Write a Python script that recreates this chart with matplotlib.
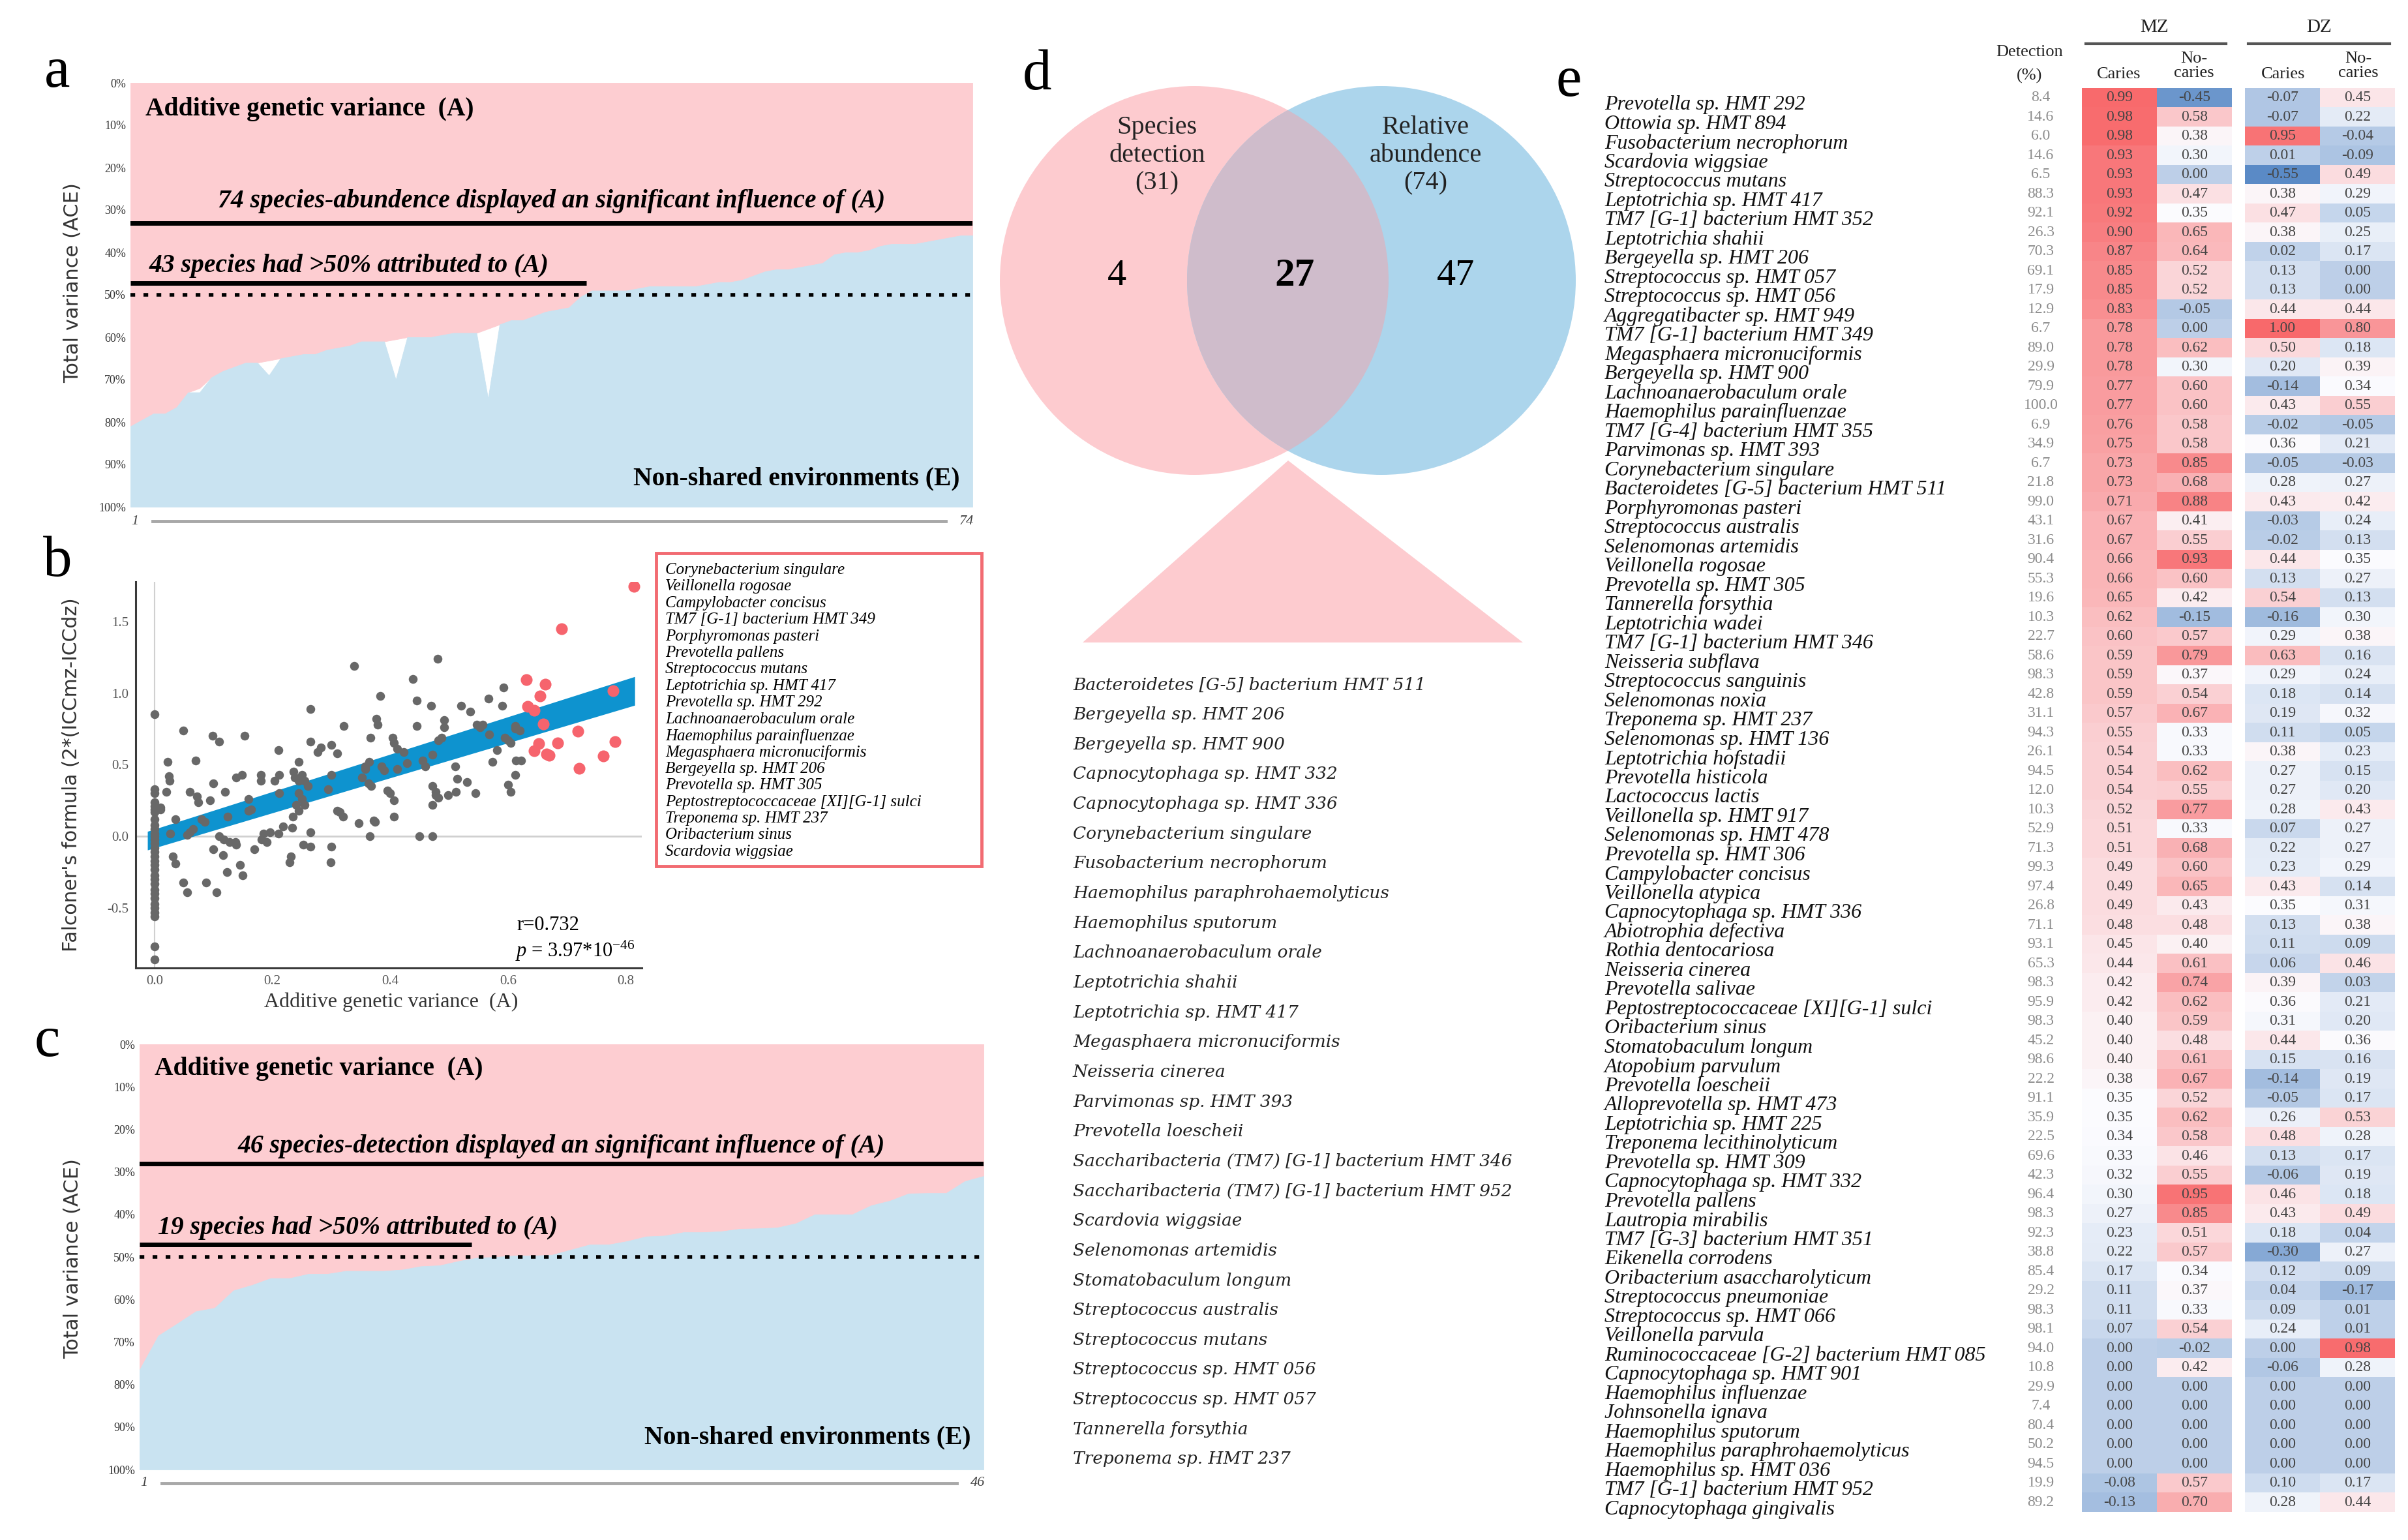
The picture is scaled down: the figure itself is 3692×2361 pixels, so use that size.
import numpy as np
import matplotlib
matplotlib.use("Agg")
import matplotlib.pyplot as plt
from matplotlib.patches import Circle, Polygon, Rectangle
from matplotlib.colors import LinearSegmentedColormap, TwoSlopeNorm

plt.rcParams['font.family'] = ['Liberation Serif', 'DejaVu Serif']
plt.rcParams['mathtext.fontset'] = 'custom'
plt.rcParams['mathtext.rm'] = 'Liberation Serif'
plt.rcParams['mathtext.it'] = 'Liberation Serif:italic'

# ------------------------------------------------------------------ data
# panel a : additive genetic variance (A, %) for 74 species (abundance), shared env. (C, %)
a_A = [81, 79.5, 78, 78, 76.5, 73, 72, 69.5, 68, 67, 66, 66, 65.5, 65, 64.5, 64, 64, 63,
       62.5, 62, 61, 61, 61, 60.5, 60, 60, 60, 59.5, 59, 59, 59, 58, 57, 56, 56, 55, 54,
       53.5, 53, 50.5, 49, 49, 49, 49, 48.5, 48, 48, 48, 48, 48, 47.5, 47, 47, 46.5, 45.5,
       44.5, 44, 44, 43.5, 43, 42.5, 40.5, 40, 40, 39.5, 38.5, 38, 38, 38, 37.5, 37, 36.5,
       36, 36]
a_C = [0, 0, 0, 0, 0, 0, 1, 0, 0, 0, 0, 0, 3.5, 0, 0, 0, 0, 0, 0, 0, 0, 0, 0, 9.5, 0, 0,
       0, 0, 0, 0, 0, 16.5, 0, 0, 0, 0, 0, 0, 0, 0, 0, 0, 0, 0, 0, 0, 0, 0, 0, 0, 0, 0, 0,
       0, 0, 0, 0, 0, 0, 0, 0, 0, 0, 0, 0, 0, 0, 0, 0, 0, 0, 0, 0, 0]
a_sig_text = "74 species-abundence displayed an significant influence of (A)"
a_half_text = "43 species had >50% attributed to (A)"

# panel c : additive genetic variance (A, %) for 46 species (detection)
c_A = [76.5, 68.5, 65.7, 62.8, 62, 57.9, 56.6, 55, 55, 54, 54, 53.3, 53.3, 53.3, 53, 52.2,
       52, 51, 50.2, 50, 49.7, 49.7, 49.5, 48.3, 47.1, 47.1, 46.3, 45.2, 45, 44.2, 44.2, 44,
       43.4, 43.3, 43.1, 42.1, 40, 40, 40, 37.9, 36.8, 35.1, 35, 35, 32.2, 31]
c_C = [0] * 46
c_sig_text = "46 species-detection displayed an significant influence of (A)"
c_half_text = "19 species had >50% attributed to (A)"

# panel b : A (x) vs Falconer's estimate (y)
b_other_species = [
    (0.0, 0.85), (0.0, 0.33), (0.0, 0.30), (0.0, 0.24), (0.0, 0.21), (0.0, 0.19), (0.0, 0.17),
    (0.0, 0.12), (0.0, 0.08), (0.0, 0.05), (0.0, 0.02), (0.0, 0.0), (0.0, -0.02), (0.0, -0.05),
    (0.0, -0.08), (0.0, -0.11), (0.0, -0.14), (0.0, -0.17), (0.0, -0.2), (0.0, -0.23),
    (0.0, -0.27), (0.0, -0.3), (0.0, -0.33), (0.0, -0.37), (0.0, -0.4), (0.0, -0.43),
    (0.0, -0.47), (0.0, -0.5), (0.0, -0.53), (0.0, -0.56), (0.0, -0.77), (0.0, -0.86),
    (0.01, 0.2), (0.01, 0.19),
    (0.022, 0.52), (0.024, 0.42), (0.026, 0.39), (0.02, 0.31), (0.035, 0.12), (0.027, 0.02),
    (0.031, -0.14), (0.035, -0.19), (0.049, -0.32), (0.056, -0.39), (0.049, 0.74), (0.06, 0.31),
    (0.07, 0.53), (0.072, 0.28), (0.074, 0.24), (0.06, 0.03), (0.056, 0.01), (0.065, 0.05),
    (0.08, 0.12), (0.085, 0.10), (0.094, 0.25), (0.099, 0.70), (0.11, 0.66), (0.1, -0.09),
    (0.105, -0.39), (0.088, -0.32), (0.116, -0.13), (0.117, -0.02), (0.11, 0.0), (0.127, -0.04),
    (0.1, 0.37), (0.12, 0.31), (0.124, 0.14), (0.139, 0.41), (0.148, 0.43), (0.153, 0.70),
    (0.145, -0.2), (0.15, -0.27), (0.123, -0.25), (0.137, -0.04), (0.139, -0.06), (0.159, 0.18),
    (0.16, 0.26), (0.164, 0.19), (0.17, -0.09), (0.18, 0.43), (0.18, 0.39), (0.185, 0.02),
    (0.182, -0.02), (0.19, -0.04), (0.196, 0.03), (0.204, 0.39), (0.21, 0.60), (0.212, 0.43),
    (0.212, 0.30), (0.21, 0.02), (0.218, 0.07), (0.229, -0.18), (0.232, -0.14), (0.234, 0.06),
    (0.236, 0.45), (0.238, 0.41), (0.245, 0.52), (0.245, 0.39), (0.25, 0.43), (0.255, 0.39),
    (0.26, 0.35), (0.245, 0.30), (0.25, 0.26), (0.255, 0.22), (0.24, 0.22), (0.245, 0.18),
    (0.235, 0.14), (0.253, -0.06), (0.265, -0.07), (0.265, 0.03), (0.265, 0.89), (0.265, 0.66),
    (0.277, 0.59), (0.282, 0.62), (0.3, 0.64), (0.3, 0.43), (0.295, 0.33), (0.3, -0.07),
    (0.299, -0.18), (0.31, 0.18), (0.315, 0.17), (0.32, 0.14), (0.31, 0.58), (0.321, 0.77),
    (0.339, 1.19), (0.347, 0.09), (0.352, 0.41), (0.358, 0.49), (0.364, 0.52), (0.358, 0.47),
    (0.368, 0.35), (0.363, 0.37), (0.365, 0.0), (0.372, 0.11), (0.374, 0.10), (0.367, 0.69),
    (0.376, 0.82), (0.379, 0.78), (0.383, 0.98), (0.385, 0.49), (0.39, 0.46), (0.395, 0.32),
    (0.4, 0.30), (0.406, 0.25), (0.406, 0.14), (0.404, 0.69), (0.406, 0.65), (0.412, 0.61),
    (0.412, 0.47), (0.423, 0.59), (0.428, 0.51), (0.439, 1.10), (0.445, 0.95), (0.445, 0.77),
    (0.45, 0.0), (0.472, 0.0), (0.455, 0.53), (0.46, 0.49), (0.472, 0.57), (0.469, 0.91),
    (0.48, 1.24), (0.482, 0.67), (0.487, 0.69), (0.492, 0.81), (0.492, 0.76), (0.472, 0.35),
    (0.477, 0.31), (0.482, 0.27), (0.472, 0.22), (0.477, 0.29), (0.498, 0.29), (0.51, 0.49),
    (0.514, 0.40), (0.512, 0.31), (0.52, 0.91), (0.53, 0.38), (0.536, 0.87), (0.545, 0.30),
    (0.547, 0.78), (0.552, 0.76), (0.557, 0.78), (0.567, 0.96), (0.568, 0.71), (0.574, 0.52),
    (0.581, 0.60), (0.59, 0.91), (0.592, 1.04), (0.595, 0.69), (0.6, 0.67), (0.605, 0.65),
    (0.612, 0.75), (0.612, 0.77), (0.6, 0.36), (0.605, 0.31), (0.612, 0.43), (0.613, 0.53),
    (0.622, 0.53), (0.62, 0.74)]
b_hl_x = [0.814, 0.691, 0.631, 0.663, 0.654, 0.633, 0.644, 0.66, 0.778, 0.719, 0.684,
          0.652, 0.782, 0.644, 0.665, 0.67, 0.762, 0.721]
b_hl_y = [1.745, 1.449, 1.092, 1.061, 0.98, 0.908, 0.88, 0.786, 1.016, 0.735, 0.653,
          0.649, 0.663, 0.596, 0.576, 0.567, 0.561, 0.476]
b_hl_names = ["Corynebacterium singulare", "Veillonella rogosae", "Campylobacter concisus",
              "TM7 [G-1] bacterium HMT 349", "Porphyromonas pasteri", "Prevotella pallens",
              "Streptococcus mutans", "Leptotrichia sp. HMT 417", "Prevotella sp. HMT 292",
              "Lachnoanaerobaculum orale", "Haemophilus parainfluenzae",
              "Megasphaera micronuciformis", "Bergeyella sp. HMT 206", "Prevotella sp. HMT 305",
              "Peptostreptococcaceae [XI][G-1] sulci", "Treponema sp. HMT 237",
              "Oribacterium sinus", "Scardovia wiggsiae"]
b_fit_x = [-0.012, 0.815]
b_fit_center = [-0.03, 1.015]
b_fit_half = [0.065, 0.10]
b_r = 0.732
b_p_mant, b_p_exp = 3.97, -46

# panel d : Venn
d_sets = ["Species\ndetection", "Relative\nabundence"]
d_totals = [31, 74]
d_regions = [4, 27, 47]
d_shared = ["Bacteroidetes [G-5] bacterium HMT 511", "Bergeyella sp. HMT 206",
            "Bergeyella sp. HMT 900", "Capnocytophaga sp. HMT 332", "Capnocytophaga sp. HMT 336",
            "Corynebacterium singulare", "Fusobacterium necrophorum",
            "Haemophilus paraphrohaemolyticus", "Haemophilus sputorum",
            "Lachnoanaerobaculum orale", "Leptotrichia shahii", "Leptotrichia sp. HMT 417",
            "Megasphaera micronuciformis", "Neisseria cinerea", "Parvimonas sp. HMT 393",
            "Prevotella loescheii", "Saccharibacteria (TM7) [G-1] bacterium HMT 346",
            "Saccharibacteria (TM7) [G-1] bacterium HMT 952", "Scardovia wiggsiae",
            "Selenomonas artemidis", "Stomatobaculum longum", "Streptococcus australis",
            "Streptococcus mutans", "Streptococcus sp. HMT 056", "Streptococcus sp. HMT 057",
            "Tannerella forsythia", "Treponema sp. HMT 237"]

# panel e : heatmap
e_species = ["Prevotella sp. HMT 292", "Ottowia sp. HMT 894", "Fusobacterium necrophorum",
             "Scardovia wiggsiae", "Streptococcus mutans", "Leptotrichia sp. HMT 417",
             "TM7 [G-1] bacterium HMT 352", "Leptotrichia shahii", "Bergeyella sp. HMT 206",
             "Streptococcus sp. HMT 057", "Streptococcus sp. HMT 056",
             "Aggregatibacter sp. HMT 949", "TM7 [G-1] bacterium HMT 349",
             "Megasphaera micronuciformis", "Bergeyella sp. HMT 900", "Lachnoanaerobaculum orale",
             "Haemophilus parainfluenzae", "TM7 [G-4] bacterium HMT 355", "Parvimonas sp. HMT 393",
             "Corynebacterium singulare", "Bacteroidetes [G-5] bacterium HMT 511",
             "Porphyromonas pasteri", "Streptococcus australis", "Selenomonas artemidis",
             "Veillonella rogosae", "Prevotella sp. HMT 305", "Tannerella forsythia",
             "Leptotrichia wadei", "TM7 [G-1] bacterium HMT 346", "Neisseria subflava",
             "Streptococcus sanguinis", "Selenomonas noxia", "Treponema sp. HMT 237",
             "Selenomonas sp. HMT 136", "Leptotrichia hofstadii", "Prevotella histicola",
             "Lactococcus lactis", "Veillonella sp. HMT 917", "Selenomonas sp. HMT 478",
             "Prevotella sp. HMT 306", "Campylobacter concisus", "Veillonella atypica",
             "Capnocytophaga sp. HMT 336", "Abiotrophia defectiva", "Rothia dentocariosa",
             "Neisseria cinerea", "Prevotella salivae", "Peptostreptococcaceae [XI][G-1] sulci",
             "Oribacterium sinus", "Stomatobaculum longum", "Atopobium parvulum",
             "Prevotella loescheii", "Alloprevotella sp. HMT 473", "Leptotrichia sp. HMT 225",
             "Treponema lecithinolyticum", "Prevotella sp. HMT 309", "Capnocytophaga sp. HMT 332",
             "Prevotella pallens", "Lautropia mirabilis", "TM7 [G-3] bacterium HMT 351",
             "Eikenella corrodens", "Oribacterium asaccharolyticum", "Streptococcus pneumoniae",
             "Streptococcus sp. HMT 066", "Veillonella parvula",
             "Ruminococcaceae [G-2] bacterium HMT 085", "Capnocytophaga sp. HMT 901",
             "Haemophilus influenzae", "Johnsonella ignava", "Haemophilus sputorum",
             "Haemophilus paraphrohaemolyticus", "Haemophilus sp. HMT 036",
             "TM7 [G-1] bacterium HMT 952", "Capnocytophaga gingivalis"]
e_detection = [8.4, 14.6, 6.0, 14.6, 6.5, 88.3, 92.1, 26.3, 70.3, 69.1,
               17.9, 12.9, 6.7, 89.0, 29.9, 79.9, 100.0, 6.9, 34.9, 6.7,
               21.8, 99.0, 43.1, 31.6, 90.4, 55.3, 19.6, 10.3, 22.7, 58.6,
               98.3, 42.8, 31.1, 94.3, 26.1, 94.5, 12.0, 10.3, 52.9, 71.3,
               99.3, 97.4, 26.8, 71.1, 93.1, 65.3, 98.3, 95.9, 98.3, 45.2,
               98.6, 22.2, 91.1, 35.9, 22.5, 69.6, 42.3, 96.4, 98.3, 92.3,
               38.8, 85.4, 29.2, 98.3, 98.1, 94.0, 10.8, 29.9, 7.4, 80.4,
               50.2, 94.5, 19.9, 89.2]
e_mz_caries = [0.99, 0.98, 0.98, 0.93, 0.93, 0.93, 0.92, 0.90, 0.87, 0.85,
               0.85, 0.83, 0.78, 0.78, 0.78, 0.77, 0.77, 0.76, 0.75, 0.73,
               0.73, 0.71, 0.67, 0.67, 0.66, 0.66, 0.65, 0.62, 0.60, 0.59,
               0.59, 0.59, 0.57, 0.55, 0.54, 0.54, 0.54, 0.52, 0.51, 0.51,
               0.49, 0.49, 0.49, 0.48, 0.45, 0.44, 0.42, 0.42, 0.40, 0.40,
               0.40, 0.38, 0.35, 0.35, 0.34, 0.33, 0.32, 0.30, 0.27, 0.23,
               0.22, 0.17, 0.11, 0.11, 0.07, 0.00, 0.00, 0.00, 0.00, 0.00,
               0.00, 0.00, -0.08, -0.13]
e_mz_nocaries = [-0.45, 0.58, 0.38, 0.30, 0.00, 0.47, 0.35, 0.65, 0.64, 0.52,
                 0.52, -0.05, 0.00, 0.62, 0.30, 0.60, 0.60, 0.58, 0.58, 0.85,
                 0.68, 0.88, 0.41, 0.55, 0.93, 0.60, 0.42, -0.15, 0.57, 0.79,
                 0.37, 0.54, 0.67, 0.33, 0.33, 0.62, 0.55, 0.77, 0.33, 0.68,
                 0.60, 0.65, 0.43, 0.48, 0.40, 0.61, 0.74, 0.62, 0.59, 0.48,
                 0.61, 0.67, 0.52, 0.62, 0.58, 0.46, 0.55, 0.95, 0.85, 0.51,
                 0.57, 0.34, 0.37, 0.33, 0.54, -0.02, 0.42, 0.00, 0.00, 0.00,
                 0.00, 0.00, 0.57, 0.70]
e_dz_caries = [-0.07, -0.07, 0.95, 0.01, -0.55, 0.38, 0.47, 0.38, 0.02, 0.13,
               0.13, 0.44, 1.00, 0.50, 0.20, -0.14, 0.43, -0.02, 0.36, -0.05,
               0.28, 0.43, -0.03, -0.02, 0.44, 0.13, 0.54, -0.16, 0.29, 0.63,
               0.29, 0.18, 0.19, 0.11, 0.38, 0.27, 0.27, 0.28, 0.07, 0.22,
               0.23, 0.43, 0.35, 0.13, 0.11, 0.06, 0.39, 0.36, 0.31, 0.44,
               0.15, -0.14, -0.05, 0.26, 0.48, 0.13, -0.06, 0.46, 0.43, 0.18,
               -0.30, 0.12, 0.04, 0.09, 0.24, 0.00, -0.06, 0.00, 0.00, 0.00,
               0.00, 0.00, 0.10, 0.28]
e_dz_nocaries = [0.45, 0.22, -0.04, -0.09, 0.49, 0.29, 0.05, 0.25, 0.17, 0.00,
                 0.00, 0.44, 0.80, 0.18, 0.39, 0.34, 0.55, -0.05, 0.21, -0.03,
                 0.27, 0.42, 0.24, 0.13, 0.35, 0.27, 0.13, 0.30, 0.38, 0.16,
                 0.24, 0.14, 0.32, 0.05, 0.23, 0.15, 0.20, 0.43, 0.27, 0.27,
                 0.29, 0.14, 0.31, 0.38, 0.09, 0.46, 0.03, 0.21, 0.20, 0.36,
                 0.16, 0.19, 0.17, 0.53, 0.28, 0.17, 0.19, 0.18, 0.49, 0.04,
                 0.27, 0.09, -0.17, 0.01, 0.01, 0.98, 0.28, 0.00, 0.00, 0.00,
                 0.00, 0.00, 0.17, 0.44]

# ------------------------------------------------------------------ figure
W, H = 3692, 2361
fig = plt.figure(figsize=(W / 100, H / 100), dpi=100)
fig.patch.set_facecolor('white')


def px_axes(x0, y0, x1, y1):
    return fig.add_axes([x0 / W, 1 - y1 / H, (x1 - x0) / W, (y1 - y0) / H])


PINK = '#fdcdd1'
LBLUE = '#c9e3f1'
BIG = 28.5


def ace_panel(box, A, C, sig_text, half_text, sig_y, half_y, half_end, txt_y, bar_y, last_lbl):
    ax = px_axes(*box)
    n = len(A)
    x = np.arange(1, n + 1)
    a = np.asarray(A, float) / 100
    c = np.asarray(C, float) / 100
    ax.fill_between(x, 0, a, facecolor=PINK, edgecolor=PINK, lw=0.6)
    ax.fill_between(x, a + c, 1, facecolor=LBLUE, edgecolor=LBLUE, lw=0.6)
    ax.set_xlim(1, n)
    ax.set_ylim(1, 0)
    for s in ax.spines.values():
        s.set_visible(False)
    ax.set_xticks([])
    ticks = np.round(np.arange(0, 1.001, 0.1), 2)
    ax.set_yticks(ticks)
    ax.set_yticklabels([f"{int(round(t * 100))}%" for t in ticks])
    ax.tick_params(axis='y', length=0, labelsize=13, labelcolor='#333333', pad=5)
    tr = ax.get_yaxis_transform()
    ax.text(0.018, txt_y[0], "Additive genetic variance  (A)", transform=tr, fontsize=BIG,
            fontweight='bold', ha='left', va='center')
    ax.text(0.5, txt_y[1], sig_text, transform=tr, fontsize=BIG, fontweight='bold',
            style='italic', ha='center', va='center')
    ax.axhline(sig_y, color='black', lw=5)
    ax.text(0.022, txt_y[2], half_text, transform=tr, fontsize=BIG, fontweight='bold',
            style='italic', ha='left', va='center')
    ax.plot([1, half_end], [half_y, half_y], color='black', lw=5, solid_capstyle='butt')
    ax.axhline(0.5, color='black', lw=4, ls=(0, (1.3, 2.3)))
    ax.text(0.985, txt_y[3], "Non-shared environments (E)", transform=tr, fontsize=BIG,
            fontweight='bold', ha='right', va='center')
    ax.plot([0.026, 0.968], [bar_y, bar_y], transform=ax.transAxes, clip_on=False,
            color='#a8a8a8', lw=3.5)
    ax.text(0.005, bar_y, "1", transform=ax.transAxes, style='italic', fontsize=16,
            color='#444444', ha='center', va='center')
    ax.text(0.993, bar_y, last_lbl, transform=ax.transAxes, style='italic', fontsize=16,
            color='#444444', ha='center', va='center')
    return ax


ace_panel((200, 127, 1491, 777), a_A, a_C, a_sig_text, a_half_text, 0.33, 0.472, 40.5,
          (0.062, 0.279, 0.432, 0.934), -0.034, str(len(a_A)))
ace_panel((214, 1601, 1508, 2253), c_A, c_C, c_sig_text, c_half_text, 0.281, 0.471, 18.7,
          (0.058, 0.24, 0.431, 0.924), -0.032, str(len(c_A)))

# ---- panel b
axb = px_axes(208, 892, 984, 1484)
axb.set_xlim(-0.032, 0.827)
axb.set_ylim(-0.918, 1.776)
axb.axhline(0, color='#d0d0d0', lw=2, zorder=0)
axb.axvline(0, color='#d0d0d0', lw=1.5, zorder=0)
fx = np.linspace(b_fit_x[0], b_fit_x[1], 50)
fc = np.interp(fx, b_fit_x, b_fit_center)
fh = np.interp(fx, b_fit_x, b_fit_half)
axb.fill_between(fx, fc - fh, fc + fh, color='#0e93cf', lw=0, zorder=1)
gx, gy = zip(*b_other_species)
axb.scatter(gx, gy, s=95, color='#686868', lw=0, zorder=2)
axb.scatter(b_hl_x, b_hl_y, s=170, color='#f6646d', lw=0, zorder=3)
for s in ['top', 'right']:
    axb.spines[s].set_visible(False)
for s in ['left', 'bottom']:
    axb.spines[s].set_color('#3a3a3a')
    axb.spines[s].set_linewidth(2.2)
axb.set_xticks([0, 0.2, 0.4, 0.6, 0.8])
axb.set_xticklabels(['0.0', '0.2', '0.4', '0.6', '0.8'])
axb.set_yticks([-0.5, 0, 0.5, 1.0, 1.5])
axb.set_yticklabels(['-0.5', '0.0', '0.5', '1.0', '1.5'])
axb.tick_params(length=0, labelsize=15, labelcolor='#555555', pad=8)

# ---- panel e heatmap
row0, rowh = 135, 29.5
n = len(e_species)
axe = px_axes(2440, 0, 3692, H)
vals = np.array([e_mz_caries, e_mz_nocaries, e_dz_caries, e_dz_nocaries]).T
cmap = LinearSegmentedColormap.from_list('excel3', ['#5A8AC6', '#FCFCFF', '#F8696B'])
norm = TwoSlopeNorm(vmin=vals.min(), vcenter=np.median(vals), vmax=vals.max())
axe.imshow(cmap(norm(vals[:, :2])), extent=(3192, 3422, n, 0), aspect='auto',
           interpolation='nearest')
axe.imshow(cmap(norm(vals[:, 2:])), extent=(3442, 3672, n, 0), aspect='auto',
           interpolation='nearest')
axe.set_xlim(2440, 3692)
axe.set_ylim((H - row0) / rowh, -row0 / rowh)
axe.axis('off')
col_x = [3249.5, 3364.5, 3499.5, 3614.5]
for i in range(n):
    axe.text(2460, i + 0.5 + 0.38, e_species[i], style='italic', fontsize=23,
             ha='left', va='center', color='#111111')
    axe.text(3129, i + 0.5, f"{e_detection[i]:.1f}", fontsize=17, ha='center', va='center',
             color='#8c8c8c')
    for j in range(4):
        axe.text(col_x[j], i + 0.5, f"{vals[i, j]:.2f}", fontsize=17, ha='center',
                 va='center', color='#444444')

# ------------------------------------------------------------------ overlay (pixel coords)
ax0 = fig.add_axes([0, 0, 1, 1])
ax0.set_xlim(0, W)
ax0.set_ylim(H, 0)
ax0.axis('off')
ax0.set_zorder(10)

for lbl, (x, y) in zip('abcde', [(88, 112), (88, 862), (72, 1598), (1590, 116), (2405, 126)]):
    ax0.text(x, y, lbl, fontsize=64, ha='center', va='center')

# axis titles
ax0.text(112, 434, "Total variance (ACE)", rotation=90, family='DejaVu Sans', fontsize=22,
         color='#333333', ha='center', va='center')
ax0.text(112, 1930, "Total variance (ACE)", rotation=90, family='DejaVu Sans', fontsize=22,
         color='#333333', ha='center', va='center')
ax0.text(110, 1188, "Falconer's formula (2*(ICCmz-ICCdz)", rotation=90, family='DejaVu Sans',
         fontsize=21.5, color='#333333', ha='center', va='center')
ax0.text(600, 1536, "Additive genetic variance  (A)", fontsize=23, color='#333333',
         ha='center', va='center')
ax0.text(792, 1418, f"r={b_r}", fontsize=22, ha='left', va='center')
ax0.text(790, 1458, f"$p$ = {b_p_mant}*10$^{{{b_p_exp}}}$", fontsize=22, ha='left', va='center')

# legend box of panel b
ax0.add_patch(Rectangle((1006, 848), 499, 480, fill=False, ec='#f26b72', lw=3.5))
for k, nm in enumerate(b_hl_names):
    ax0.text(1020, 874 + k * 25.4, nm, style='italic', fontsize=18, ha='left', va='center')

# ---- panel d Venn
r = 298
cL, cR = (1831, 430), (2118, 430)
circL = Circle(cL, r, fc='#fdcbcf', ec='none')
circR = Circle(cR, r, fc='#acd5ec', ec='none')
ax0.add_patch(circL)
ax0.add_patch(circR)
lens = Circle(cL, r, fc='#cfbccb', ec='none')
ax0.add_patch(lens)
lens.set_clip_path(circR)
ax0.text(1774, 238, f"{d_sets[0]}\n({d_totals[0]})", fontsize=29, ha='center', va='center',
         linespacing=1.2, color='#222222')
ax0.text(2186, 238, f"{d_sets[1]}\n({d_totals[1]})", fontsize=29, ha='center', va='center',
         linespacing=1.2, color='#222222')
ax0.text(1712, 423, str(d_regions[0]), fontsize=42, ha='center', va='center')
ax0.text(1985, 423, str(d_regions[1]), fontsize=44, fontweight='bold', ha='center', va='center')
ax0.text(2232, 423, str(d_regions[2]), fontsize=42, ha='center', va='center')
ax0.add_patch(Polygon([(1975, 706), (1660, 985), (2335, 985)], closed=True, fc='#fdcbcf',
                      ec='none'))
for k, nm in enumerate(d_shared):
    ax0.text(1645, 1050 + k * 45.65, nm, family='DejaVu Serif', style='italic', fontsize=19,
             ha='left', va='center', color='#222222')

# ---- panel e headers
ax0.text(3112, 80, "Detection", fontsize=19, ha='center', va='center', color='#222222')
ax0.text(3112, 116, "(%)", fontsize=19, ha='center', va='center', color='#222222')
ax0.text(3303, 42, "MZ", fontsize=21, ha='center', va='center', color='#222222')
ax0.text(3556, 42, "DZ", fontsize=21, ha='center', va='center', color='#222222')
ax0.plot([3198, 3413], [67, 67], color='#555555', lw=3)
ax0.plot([3447, 3664], [67, 67], color='#555555', lw=3)
for xc in (3249, 3501):
    ax0.text(xc, 114, "Caries", fontsize=19, ha='center', va='center', color='#222222')
for xc in (3364, 3616):
    ax0.text(xc, 101, "No-\ncaries", fontsize=19, ha='center', va='center', color='#222222',
             linespacing=0.95)

fig.savefig("out.png", dpi=100)
